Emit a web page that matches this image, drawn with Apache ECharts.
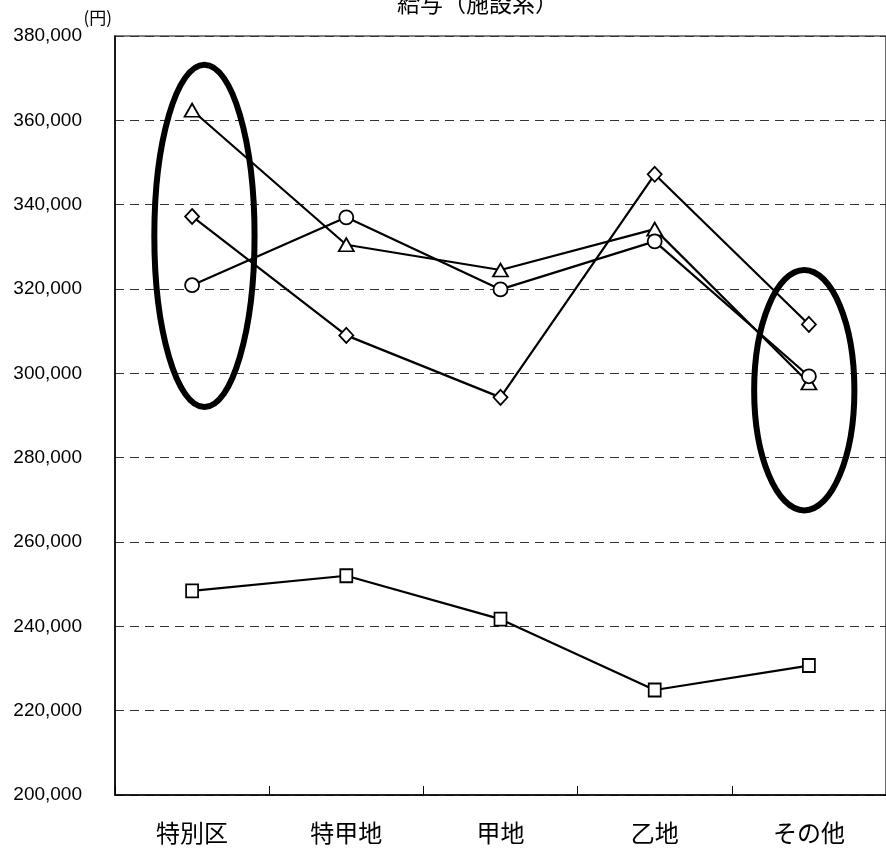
<!DOCTYPE html>
<html>
<head>
<meta charset="utf-8">
<script src="https://cdn.jsdelivr.net/npm/echarts@6/dist/echarts.min.js"></script>
<style>
html,body{margin:0;padding:0;background:#fff;}
#main{width:886px;height:848px;}
</style>
</head>
<body>
<div id="main"></div>
<script>
// ---- data ----
const titleText = '給与（施設系）';
const unitLabel = '(円)';
const categories = ['特別区', '特甲地', '甲地', '乙地', 'その他'];
const seriesTriangle = [362400, 330500, 324500, 334200, 297700];
const seriesCircle   = [320900, 337000, 319900, 331300, 299300];
const seriesDiamond  = [337200, 309000, 294300, 347200, 311600];
const seriesSquare   = [248400, 252000, 241700, 224900, 230700];
const yMin = 200000, yMax = 380000, yStep = 20000;
// highlighted regions (category index, offset, half width in categories, value top/bottom)
const highlightEllipses = [
  {cat: 0, dx: 0.08, halfW: 0.325, top: 373200, bottom: 292000},
  {cat: 4, dx: -0.03, halfW: 0.325, top: 324500, bottom: 267500}
];

const chart = echarts.init(document.getElementById('main'), null, {renderer: 'canvas'});
const font = '"Liberation Sans", Arial, "Noto Sans CJK JP", sans-serif';
const cjk = '"Noto Sans CJK JP", "Liberation Sans", sans-serif';

function mk(name, data, symbol, size) {
  return {
    name: name, type: 'line', data: data,
    symbol: symbol, symbolSize: size,
    showAllSymbol: true,
    lineStyle: {color: '#000', width: 2.2},
    itemStyle: {color: '#fff', borderColor: '#000', borderWidth: 1.8},
    emphasis: {disabled: true},
    animation: false,
    z: 3
  };
}

const option = {
  backgroundColor: '#fff',
  animation: false,
  title: {
    text: titleText, left: 397, top: -8, padding: 0,
    textStyle: {fontFamily: cjk, fontSize: 23, fontWeight: 'normal', color: '#000'}
  },
  grid: {
    left: 115, right: -5, top: 36, bottom: 53,
    show: true, borderColor: '#000', borderWidth: 1.2, backgroundColor: 'transparent'
  },
  xAxis: {
    type: 'category', data: categories, boundaryGap: true,
    axisLine: {lineStyle: {color: '#000', width: 1.5}},
    axisTick: {show: true, inside: true, length: 9, lineStyle: {color: '#000', width: 1}},
    axisLabel: {margin: 26, fontFamily: cjk, fontSize: 24, fontWeight: 'normal', color: '#000'},
    splitLine: {show: false}
  },
  yAxis: {
    type: 'value', min: yMin, max: yMax, interval: yStep,
    name: unitLabel, nameLocation: 'end', nameGap: 10,
    nameTextStyle: {fontFamily: cjk, fontSize: 17, color: '#000', align: 'right', padding: [0, 3, 0, 0]},
    axisLine: {show: true, lineStyle: {color: '#000', width: 1.5}},
    axisTick: {show: false},
    axisLabel: {
      margin: 33, fontFamily: font, fontSize: 19, fontWeight: 'normal', color: '#000',
      padding: [0, 0, 5, 0],
      formatter: v => v.toLocaleString('en-US')
    },
    splitLine: {show: true, lineStyle: {color: '#333', width: 1, type: [9, 6]}}
  },
  series: [
    mk('triangle', seriesTriangle, 'triangle', [15, 13]),
    mk('circle', seriesCircle, 'circle', 14),
    mk('diamond', seriesDiamond, 'diamond', [14, 15]),
    mk('square', seriesSquare, 'rect', [12, 13])
  ]
};
chart.setOption(option);

function drawEllipses() {
  const c0 = chart.convertToPixel({xAxisIndex: 0}, 0);
  const c1 = chart.convertToPixel({xAxisIndex: 0}, 1);
  const cw = c1 - c0;
  const els = highlightEllipses.map(e => {
    const cx = chart.convertToPixel({xAxisIndex: 0}, e.cat) + e.dx * cw;
    const yt = chart.convertToPixel({yAxisIndex: 0}, e.top);
    const yb = chart.convertToPixel({yAxisIndex: 0}, e.bottom);
    return {
      type: 'ellipse',
      shape: {cx: cx, cy: (yt + yb) / 2, rx: e.halfW * cw, ry: (yb - yt) / 2},
      style: {fill: 'none', stroke: '#000', lineWidth: 6},
      z: 10, silent: true
    };
  });
  chart.setOption({graphic: els});
}
drawEllipses();
</script>
</body>
</html>
